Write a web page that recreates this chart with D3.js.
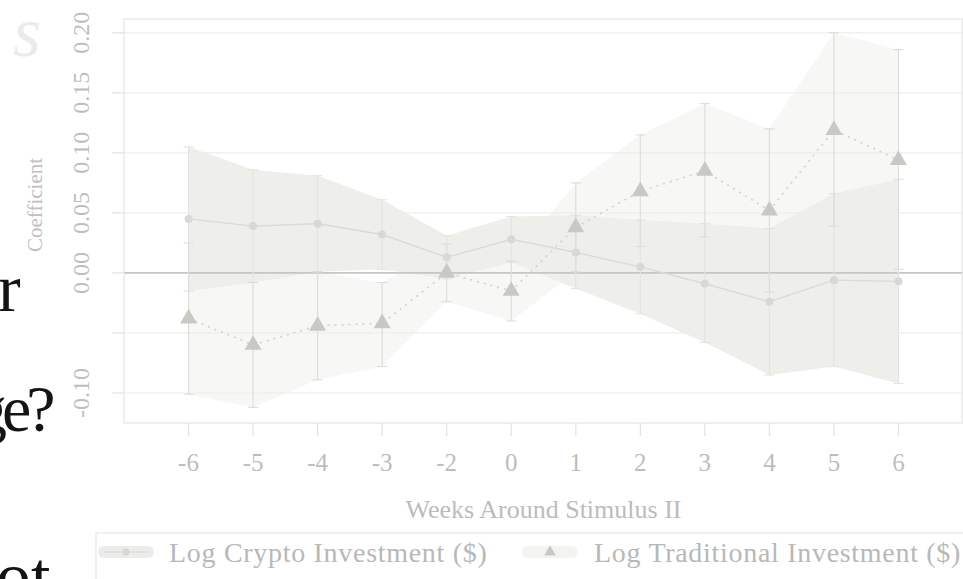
<!DOCTYPE html>
<html>
<head>
<meta charset="utf-8">
<script src="https://cdn.jsdelivr.net/npm/d3@7"></script>
<style>
  html, body { margin: 0; padding: 0; background: #ffffff; }
  svg { display: block; }
</style>
</head>
<body>
<svg id="chart" width="963" height="579"></svg>
<script>
// Event-study coefficients, weeks around the second stimulus payment (week -1 is the base)
const weeks = ["-6", "-5", "-4", "-3", "-2", "0", "1", "2", "3", "4", "5", "6"];

const cryptoCoef = [0.045, 0.039, 0.041, 0.032, 0.013, 0.028, 0.017, 0.005, -0.009, -0.024, -0.006, -0.007];
const cryptoLow  = [-0.015, -0.008, 0.001, 0.003, -0.005, 0.009, -0.013, -0.034, -0.058, -0.085, -0.078, -0.092];
const cryptoHigh = [0.105, 0.086, 0.081, 0.061, 0.031, 0.047, 0.048, 0.044, 0.041, 0.037, 0.066, 0.078];

const tradCoef = [-0.038, -0.060, -0.044, -0.042, 0.000, -0.015, 0.038, 0.068, 0.085, 0.052, 0.119, 0.094];
const tradLow  = [-0.101, -0.112, -0.089, -0.078, -0.024, -0.040, 0.001, 0.022, 0.030, -0.016, 0.039, 0.003];
const tradHigh = [0.025, -0.008, 0.001, -0.008, 0.024, 0.010, 0.075, 0.115, 0.141, 0.120, 0.200, 0.186];

const yTicks = [-0.10, -0.05, 0.00, 0.05, 0.10, 0.15, 0.20];
const yTickLabels = ["-0.10", "", "0.00", "0.05", "0.10", "0.15", "0.20"];

const seriesNames = ["Log Crypto Investment ($)", "Log Traditional Investment ($)"];

const svg = d3.select("#chart");
const serif = "'Liberation Serif', 'DejaVu Serif', serif";

// Slide text peeking out at the left edge
const slide = svg.append("g").attr("font-family", serif);
slide.append("text").attr("x", 13).attr("y", 56).attr("font-size", 72)
  .attr("font-style", "italic").attr("fill", "#ebebeb").text("s");
slide.append("text").attr("x", -2).attr("y", 311).attr("font-size", 68).attr("fill", "#141414").text("r");
slide.append("text").attr("x", -26).attr("y", 431).attr("font-size", 66)
  .attr("letter-spacing", -5).attr("fill", "#141414").text("ge?");
slide.append("text").attr("x", -4).attr("y", 600).attr("font-size", 70).attr("fill", "#141414").text("ot");

// Plot region
const plot = { left: 124, right: 963, top: 19, bottom: 423 };

const x = d3.scalePoint().domain(weeks).range([plot.left, plot.right]).padding(1);
const y = d3.scaleLinear().domain([-0.125, 0.2115]).range([plot.bottom, plot.top]);

// White backing of the chart panel
svg.append("rect").attr("x", 58).attr("y", 0).attr("width", 905).attr("height", 530).attr("fill", "#ffffff");

const g = svg.append("g");

// Confidence bands
const rows = weeks.map((w, i) => ({
  w, c: cryptoCoef[i], cl: cryptoLow[i], ch: cryptoHigh[i],
  t: tradCoef[i], tl: tradLow[i], th: tradHigh[i]
}));

g.append("path").datum(rows)
  .attr("fill", "#f7f7f5")
  .attr("d", d3.area().x(d => x(d.w)).y0(d => y(d.tl)).y1(d => y(d.th)));

g.append("path").datum(rows)
  .attr("fill", "#edede9").attr("fill-opacity", 0.92)
  .attr("d", d3.area().x(d => x(d.w)).y0(d => y(d.cl)).y1(d => y(d.ch)));

// Grid lines
g.append("g").selectAll("line").data(yTicks.filter(v => v !== 0)).join("line")
  .attr("x1", plot.left).attr("x2", plot.right)
  .attr("y1", d => y(d)).attr("y2", d => y(d))
  .attr("stroke", "#eeeeee").attr("stroke-width", 1.2);

// Zero reference line
g.append("line")
  .attr("x1", plot.left).attr("x2", plot.right)
  .attr("y1", y(0)).attr("y2", y(0))
  .attr("stroke", "#c6c6c6").attr("stroke-width", 1.7);

// Plot frame
g.append("rect")
  .attr("x", plot.left).attr("y", plot.top)
  .attr("width", plot.right - plot.left - 1).attr("height", plot.bottom - plot.top)
  .attr("fill", "none").attr("stroke", "#e4e4e4").attr("stroke-width", 1.2);

// Error bars with caps
function capped(sel, lo, hi, color) {
  const eb = sel.append("g").attr("stroke", color).attr("stroke-width", 1.1);
  eb.selectAll("line.v").data(rows).join("line").attr("class", "v")
    .attr("x1", d => x(d.w)).attr("x2", d => x(d.w))
    .attr("y1", d => y(lo(d))).attr("y2", d => y(hi(d)));
  eb.selectAll("line.lo").data(rows).join("line").attr("class", "lo")
    .attr("x1", d => x(d.w) - 5).attr("x2", d => x(d.w) + 5)
    .attr("y1", d => y(lo(d))).attr("y2", d => y(lo(d)));
  eb.selectAll("line.hi").data(rows).join("line").attr("class", "hi")
    .attr("x1", d => x(d.w) - 5).attr("x2", d => x(d.w) + 5)
    .attr("y1", d => y(hi(d))).attr("y2", d => y(hi(d)));
}
capped(g, d => d.cl, d => d.ch, "#e3e3e0");
capped(g, d => d.tl, d => d.th, "#dcdcd8");

// Coefficient lines
g.append("path").datum(rows)
  .attr("fill", "none").attr("stroke", "#dadad6").attr("stroke-width", 1.4)
  .attr("d", d3.line().x(d => x(d.w)).y(d => y(d.c)));

g.append("path").datum(rows)
  .attr("fill", "none").attr("stroke", "#d2d2cc").attr("stroke-width", 1.6)
  .attr("stroke-dasharray", "2,5")
  .attr("d", d3.line().x(d => x(d.w)).y(d => y(d.t)));

// Markers
g.append("g").selectAll("circle").data(rows).join("circle")
  .attr("cx", d => x(d.w)).attr("cy", d => y(d.c)).attr("r", 4)
  .attr("fill", "#d8d8d4");

const tri = d3.symbol().type(d3.symbolTriangle).size(125);
g.append("g").selectAll("path").data(rows).join("path")
  .attr("transform", d => `translate(${x(d.w)},${y(d.t)})`)
  .attr("d", tri).attr("fill", "#c9c9c3");

// Y axis
const yAxis = svg.append("g");
yAxis.selectAll("line").data(yTicks).join("line")
  .attr("x1", plot.left - 12).attr("x2", plot.left)
  .attr("y1", d => y(d)).attr("y2", d => y(d))
  .attr("stroke", "#e2e2e2").attr("stroke-width", 1.2);
yAxis.selectAll("text").data(yTicks).join("text")
  .attr("transform", d => `translate(89,${y(d)}) rotate(-90)`)
  .attr("text-anchor", "middle")
  .attr("font-family", serif).attr("font-size", 24).attr("fill", "#bdbdbd")
  .text((d, i) => yTickLabels[i]);

svg.append("text")
  .attr("transform", `translate(42,205) rotate(-90)`)
  .attr("text-anchor", "middle")
  .attr("font-family", serif).attr("font-size", 21).attr("fill", "#c0c0c0")
  .text("Coefficient");

// X axis
const xAxis = svg.append("g");
xAxis.selectAll("line").data(weeks).join("line")
  .attr("x1", d => x(d)).attr("x2", d => x(d))
  .attr("y1", plot.bottom).attr("y2", plot.bottom + 13)
  .attr("stroke", "#e2e2e2").attr("stroke-width", 1.2);
xAxis.selectAll("text").data(weeks).join("text")
  .attr("x", d => x(d)).attr("y", 471)
  .attr("text-anchor", "middle")
  .attr("font-family", serif).attr("font-size", 25).attr("fill", "#bdbdbd")
  .text(d => d);

svg.append("text")
  .attr("x", (plot.left + plot.right) / 2).attr("y", 518)
  .attr("text-anchor", "middle")
  .attr("font-family", serif).attr("font-size", 26).attr("fill", "#bcbcbc")
  .text("Weeks Around Stimulus II");

// Legend
const legend = svg.append("g");
legend.append("rect")
  .attr("x", 96).attr("y", 533).attr("width", 900).attr("height", 80)
  .attr("fill", "#ffffff").attr("stroke", "#e6e6e6").attr("stroke-width", 1.2);

const keys = [
  { x0: 98, tx: 169, name: seriesNames[0], band: "#ececea", mark: "circle" },
  { x0: 522, tx: 594, name: seriesNames[1], band: "#f3f3f1", mark: "triangle" }
];
keys.forEach(k => {
  legend.append("rect").attr("x", k.x0).attr("y", 546).attr("width", 56).attr("height", 12)
    .attr("rx", 6).attr("fill", k.band);
  if (k.mark === "circle") {
    legend.append("line").attr("x1", k.x0 + 6).attr("x2", k.x0 + 50)
      .attr("y1", 552).attr("y2", 552).attr("stroke", "#dadad6").attr("stroke-width", 1.2);
    legend.append("circle").attr("cx", k.x0 + 28).attr("cy", 552).attr("r", 3.5).attr("fill", "#d6d6d2");
  } else {
    legend.append("path").attr("transform", `translate(${k.x0 + 28},552)`)
      .attr("d", d3.symbol().type(d3.symbolTriangle).size(60)).attr("fill", "#c9c9c3");
  }
  legend.append("text").attr("x", k.tx).attr("y", 562)
    .attr("font-family", serif).attr("font-size", 28).attr("letter-spacing", 0.7)
    .attr("fill", "#b8b8b8")
    .text(k.name);
});
</script>
</body>
</html>
